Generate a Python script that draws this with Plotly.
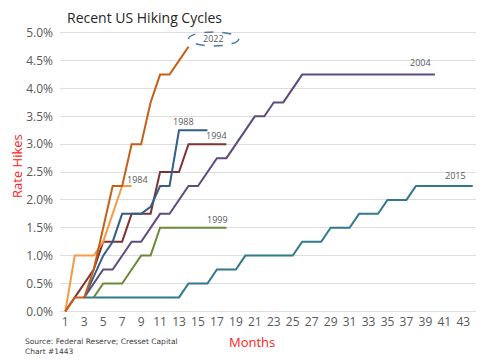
import plotly.graph_objects as go

# ---- data ----
start_2022 = 1
rate_2022 = [0, 0.25, 0.25, 0.75, 1.5, 2.25, 2.25, 3.0, 3.0, 3.75, 4.25, 4.25, 4.5, 4.75]
start_1984 = 1
rate_1984 = [0, 1.0, 1.0, 1.0, 1.25, 1.75, 2.25, 2.25]
start_1988 = 3
rate_1988 = [0.25, 0.625, 1.0, 1.25, 1.75, 1.75, 1.75, 1.875, 2.25, 2.25, 3.25, 3.25, 3.25, 3.25]
start_1994 = 1
rate_1994 = [0, 0.25, 0.5, 0.75, 1.25, 1.25, 1.25, 1.75, 1.75, 1.75, 2.5, 2.5, 2.5,
             3.0, 3.0, 3.0, 3.0, 3.0]
start_1999 = 4
rate_1999 = [0.25, 0.5, 0.5, 0.5, 0.75, 1.0, 1.0, 1.5, 1.5, 1.5, 1.5, 1.5, 1.5, 1.5, 1.5]
start_2004 = 3
rate_2004 = [0.25, 0.5, 0.75, 0.75, 1.0, 1.25, 1.25, 1.5, 1.75, 1.75, 2.0, 2.25, 2.25,
             2.5, 2.75, 2.75, 3.0, 3.25, 3.5, 3.5, 3.75, 3.75, 4.0,
             4.25, 4.25, 4.25, 4.25, 4.25, 4.25, 4.25, 4.25, 4.25, 4.25, 4.25, 4.25,
             4.25, 4.25, 4.25]
start_2015 = 3
rate_2015 = [0.25, 0.25, 0.25, 0.25, 0.25, 0.25, 0.25, 0.25, 0.25, 0.25, 0.25,
             0.5, 0.5, 0.5, 0.75, 0.75, 0.75, 1.0, 1.0, 1.0, 1.0, 1.0, 1.0,
             1.25, 1.25, 1.25, 1.5, 1.5, 1.5, 1.75, 1.75, 1.75, 2.0, 2.0, 2.0,
             2.25, 2.25, 2.25, 2.25, 2.25, 2.25, 2.25]

x_ticks = list(range(1, 44, 2))
y_ticks = [0, 0.5, 1.0, 1.5, 2.0, 2.5, 3.0, 3.5, 4.0, 4.5, 5.0]
y_ticktext = ["0.0%", "0.5%", "1.0%", "1.5%", "2.0%", "2.5%", "3.0%", "3.5%", "4.0%", "4.5%", "5.0%"]

# series in draw order: (label, start, values, colour, label position)
series = [
    ("2015", start_2015, rate_2015, "#31798D", (42.2, 2.43)),
    ("1999", start_1999, rate_1999, "#6A8A3A", (17.05, 1.65)),
    ("2004", start_2004, rate_2004, "#5E4C7E", (38.5, 4.46)),
    ("1994", start_1994, rate_1994, "#7E3234", (16.95, 3.15)),
    ("1988", start_1988, rate_1988, "#335E8C", (13.42, 3.40)),
    ("1984", start_1984, rate_1984, "#F79A45", (8.67, 2.37)),
    ("2022", start_2022, rate_2022, "#C55F18", (16.65, 4.89)),
]

FONT = "Open Sans"
fig = go.Figure()
annotations = []
for name, start, vals, color, (lx, ly) in series:
    xs = list(range(start, start + len(vals)))
    fig.add_trace(go.Scatter(x=xs, y=vals, mode="lines", name=name,
                             line=dict(color=color, width=2), showlegend=False,
                             hoverinfo="skip"))
    annotations.append(dict(x=lx, y=ly, xref="x", yref="y", text=name, showarrow=False,
                            font=dict(family=FONT, size=9, color="#595959")))

# dashed ellipse highlighting 2022
fig.add_shape(type="circle", xref="x", yref="y", x0=14.0, x1=19.3, y0=4.765, y1=5.015,
              line=dict(color="#4A7BA6", width=1.5, dash="dash"))

annotations += [
    dict(text="Rate Hikes", xref="paper", yref="paper", x=-0.103, y=0.52, textangle=-90,
         showarrow=False, font=dict(family=FONT, size=13, color="#FF2020"),
         xanchor="center", yanchor="middle"),
    dict(text="Months", xref="paper", yref="paper", x=0.462, y=-0.103,
         showarrow=False, font=dict(family=FONT, size=13, color="#FF2020"),
         xanchor="center", yanchor="middle"),
    dict(text="Source: Federal Reserve; Cresset Capital<br>Chart #1443", xref="paper",
         yref="paper", x=-0.09, y=-0.077, showarrow=False, align="left",
         xanchor="left", yanchor="top",
         font=dict(family="DejaVu Sans", size=7.5, color="#404040")),
]

fig.update_layout(
    width=500, height=362,
    margin=dict(l=60, r=24, t=30, b=49),
    plot_bgcolor="white", paper_bgcolor="white",
    title=dict(text="Recent US Hiking Cycles", x=0.134, xanchor="left", xref="container",
               y=0.95, yanchor="middle", yref="container",
               font=dict(family=FONT, size=14, color="#262626")),
    annotations=annotations,
    xaxis=dict(range=[0.44, 44.34], tickvals=x_ticks, showgrid=False, zeroline=False,
               showline=False, ticks="", automargin=False,
               tickfont=dict(family=FONT, size=12, color="#595959")),
    yaxis=dict(range=[-0.03, 5.05], tickvals=y_ticks, ticktext=y_ticktext,
               showgrid=True, gridcolor="#DDDDDD", gridwidth=1, zeroline=False,
               showline=False, ticks="", ticklabelstandoff=6, automargin=False,
               tickfont=dict(family=FONT, size=12, color="#595959")),
)

fig.write_html("out.html", config={"displayModeBar": False},
               post_script="document.body.style.margin='0';document.body.style.overflow='hidden';")
